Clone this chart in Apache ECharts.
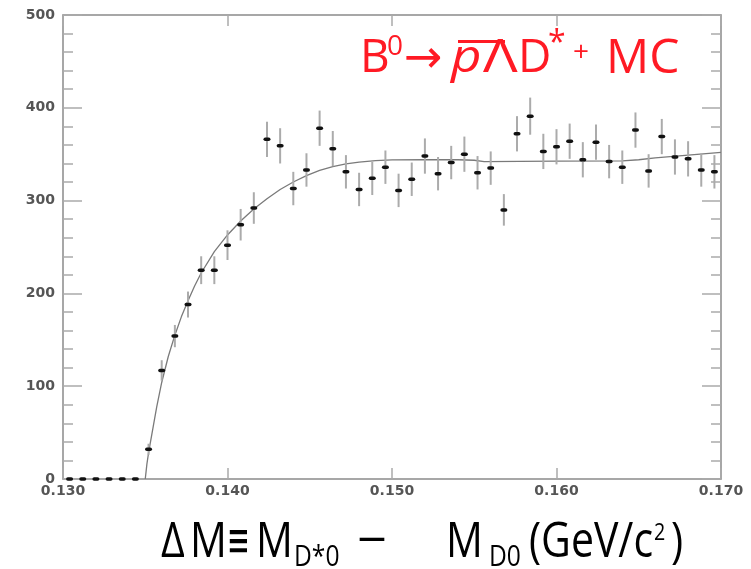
<!DOCTYPE html>
<html>
<head>
<meta charset="utf-8">
<script src="https://cdn.jsdelivr.net/npm/echarts@6/dist/echarts.min.js"></script>
<style>html,body{margin:0;padding:0;background:#fff}#c{width:751px;height:569px}</style>
</head>
<body>
<div id="c"></div>
<script>
// ---- data ----
const binCenters = [0.1304,0.1312,0.1320,0.1328,0.1336,0.1344,0.1352,0.1360,0.1368,0.1376,
  0.1384,0.1392,0.1400,0.1408,0.1416,0.1424,0.1432,0.1440,0.1448,0.1456,
  0.1464,0.1472,0.1480,0.1488,0.1496,0.1504,0.1512,0.1520,0.1528,0.1536,
  0.1544,0.1552,0.1560,0.1568,0.1576,0.1584,0.1592,0.1600,0.1608,0.1616,
  0.1624,0.1632,0.1640,0.1648,0.1656,0.1664,0.1672,0.1680,0.1688,0.1696];
const counts = [0,0,0,0,0,0,32,117,154,188,
  225,225,252,274,292,366,359,313,333,378,
  356,331,312,324,336,311,323,348,329,341,
  350,330,335,290,372,391,353,358,364,344,
  363,342,336,376,332,369,347,345,333,331];
const errors = [0,0,0,0,0,0,6,11,12,14,
  15,15,16,17,17,19,19,18,18,19,
  19,18,18,18,18,18,18,19,18,18,
  19,18,18,17,19,20,19,19,19,19,
  19,18,18,19,18,19,19,19,18,18];
const fitX = [0.1350,0.13505,0.1351,0.1352,0.1353,0.1355,0.1357,0.1360,0.1364,0.1368,0.1372,0.1376,
  0.1380,0.1384,0.1392,0.1400,0.1408,0.1416,0.1424,0.1432,0.1440,0.1448,0.1456,0.1464,
  0.1472,0.1480,0.1490,0.1500,0.1520,0.1540,0.1550,0.1556,0.1600,0.1640,0.1650,0.1660,
  0.1680,0.1700];
const fitY = [0,8,16,28,38,58,78,104,132,155,175,192,
  208,222,245,263,278,291,302,312,320,327,332.5,336.5,
  339.5,341.5,343,343.8,344,344,343.5,342,342.5,342.8,344,346,
  349,352];
const xTickLabels = ['0.130','0.140','0.150','0.160','0.170'];
const yTickLabels = ['0','100','200','300','400','500'];

const chart = echarts.init(document.getElementById('c'), null, {renderer:'canvas'});
const axisColor = '#8a8a8a';
const labelStyle = {color:'#555', fontFamily:'DejaVu Sans', fontSize:14, fontWeight:'bold'};
function xAxisCfg(pos, showLabel){
  return {type:'value', position:pos, min:0.130, max:0.170, interval:0.01,
    axisLine:{show:true, onZero:false, lineStyle:{color:axisColor, width:1.5}},
    axisTick:{show:true, inside:true, length:11, lineStyle:{color:'#aaa', width:1.5}},
    axisLabel:{show:showLabel, margin:5, ...labelStyle,
      formatter:function(v){ const i = Math.round((v-0.130)/0.01); return xTickLabels[i]; }},
    splitLine:{show:false}};
}
function yAxisCfg(pos, showLabel){
  return {type:'value', position:pos, min:0, max:500, interval:100,
    axisLine:{show:true, onZero:false, lineStyle:{color:axisColor, width:1.5}},
    axisTick:{show:true, inside:true, length:19, lineStyle:{color:'#aaa', width:1.5}},
    minorTick:{show:true, splitNumber:5, length:10, lineStyle:{color:'#aaa', width:1.5}},
    axisLabel:{show:showLabel, margin:8, ...labelStyle,
      formatter:function(v){ return yTickLabels[Math.round(v/100)]; }},
    splitLine:{show:false}, minorSplitLine:{show:false}};
}
function txt(str, left, y, size, opts){
  opts = opts || {};
  return {type:'text', x:left, y:y, scaleX:opts.sx||1, originX:0, originY:0, z:100,
    style:{text:str, x:0, y:0, fill:opts.color||'#000',
      font:(opts.italic?'italic ':'')+size+'px "Open Sans", "DejaVu Sans", sans-serif',
      textAlign:'left', textVerticalAlign:'middle'}};
}
const red = '#ff1a24';
const sx = 0.82;
const option = {
  animation:false,
  backgroundColor:'#fff',
  grid:{left:63, right:30, top:15, bottom:90, containLabel:false},
  xAxis:[xAxisCfg('bottom', true), xAxisCfg('top', false)],
  yAxis:[yAxisCfg('left', true), yAxisCfg('right', false)],
  series:[
    {type:'line', xAxisIndex:0, yAxisIndex:0, data:fitX.map((x,i)=>[x,fitY[i]]),
      showSymbol:false, smooth:false,
      lineStyle:{color:'#7a7a7a', width:1.3}, z:2},
    {type:'custom', xAxisIndex:0, yAxisIndex:0, z:3,
      data:binCenters.map((x,i)=>[x, counts[i], errors[i]]),
      encode:{x:0, y:1},
      renderItem:function(params, api){
        const x = api.value(0), y = api.value(1), e = api.value(2);
        const p = api.coord([x,y]);
        const children = [];
        if (e > 0){
          const hi = api.coord([x,y+e]), lo = api.coord([x,y-e]);
          children.push({type:'line', shape:{x1:hi[0], y1:hi[1], x2:lo[0], y2:lo[1]},
            style:{stroke:'#ababab', lineWidth:2}});
        }
        children.push({type:'rect', shape:{x:p[0]-3.5, y:p[1]-1.75, width:7, height:3.5, r:1.75},
          style:{fill:'#111'}});
        return {type:'group', children:children};
      }}
  ],
  graphic:[
    // title
    txt('B', 360, 59, 46, {color:red}),
    txt('0', 387, 46.6, 28, {color:red}),
    txt('\u2192', 404, 59, 46, {color:red}),
    txt('p', 451, 59, 46, {color:red, italic:true, sx:1.15}),
    {type:'rect', shape:{x:458, y:40, width:47, height:3}, style:{fill:red}, z:100},
    txt('\u039B', 483, 59, 46, {color:red, sx:1.25}),
    txt('D', 518, 59, 46, {color:red}),
    txt('*', 548, 44, 32, {color:red}),
    txt('+', 573, 52.6, 28, {color:red}),
    txt('MC', 606, 59, 48, {color:red}),
    // x axis title
    txt('\u0394', 161, 543, 50, {sx:sx}),
    txt('M', 190, 543, 50, {sx:sx}),
    txt('\u2261', 227, 543, 50, {sx:0.55}),
    txt('M', 256, 543, 50, {sx:sx}),
    txt('D*0', 294, 557.4, 30, {sx:sx}),
    txt('\u2212', 357, 543, 50, {sx:1.05}),
    txt('M', 446, 543, 50, {sx:sx}),
    txt('D0', 489, 557.4, 30, {sx:sx}),
    txt('(GeV/c', 529, 543, 50, {sx:sx}),
    txt('2', 654, 532.8, 24, {sx:sx}),
    txt(')', 671, 543, 50, {sx:sx})
  ]
};
chart.setOption(option);
</script>
</body>
</html>
